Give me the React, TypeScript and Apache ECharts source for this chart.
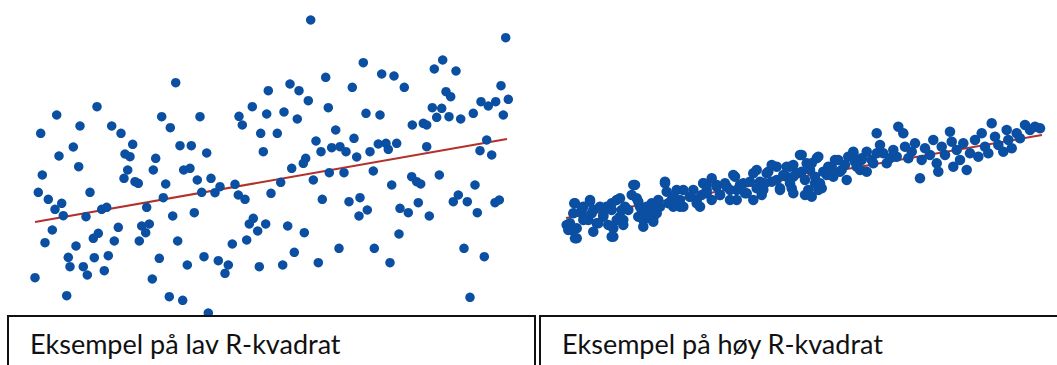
import React, { useEffect, useRef } from "react";
import * as echarts from "echarts";

// Scatter readings (horizontal position, vertical position measured downward)
const lowRPoints: number[][] = [
  [175.7, 82.7], [56.7, 115], [97, 106.7], [40.7, 133.3], [80, 126], [111.7, 126], [121, 133.3], [132.7, 144.3],
  [73.3, 147], [59, 156], [125, 154], [130, 156.7], [155.7, 158.3], [161.7, 116.7], [170.3, 127.7], [180, 145.7],
  [191.3, 145.7], [200, 116.7], [206.7, 153], [239, 116.3], [242.3, 125], [252.3, 106.7], [260.7, 133.3], [268.3, 90.7],
  [266.7, 114], [263.3, 151.7], [42.3, 175], [78.7, 166.7], [127.7, 170], [153.3, 170], [183.7, 170], [190, 168.3],
  [124, 178.3], [135, 181.7], [138.3, 183.3], [165.7, 184], [197.3, 180], [211, 178.3], [38.3, 192.3], [90, 192.3],
  [48.3, 199.3], [61.7, 203.3], [55, 209.3], [63.3, 215.7], [86, 216.7], [101.7, 209.3], [106.7, 207.3], [146.7, 207.3],
  [163.3, 197.7], [201.7, 192.3], [215, 192.7], [220, 186.7], [235, 184.3], [238.3, 195], [245, 199.3], [271, 193.3],
  [172.7, 216], [194.3, 212.7], [52.3, 230], [45, 242.7], [118.3, 227.3], [141.7, 226], [149.3, 224], [145.7, 232.7],
  [98.3, 233.3], [93.3, 238.3], [114.3, 241], [139.3, 241], [177.7, 241], [76, 246], [68.3, 257.3], [70, 266.7],
  [94.3, 257.7], [108.3, 255.7], [83.3, 266.7], [87.3, 275], [104.3, 270.7], [159.3, 258.3], [187.3, 265], [204, 256.7],
  [218.3, 260.7], [228.3, 265], [225, 273.3], [232.3, 244], [246.7, 240], [249.3, 224], [253.3, 218.3], [257.7, 231],
  [265.7, 224], [259.3, 266.7], [35, 277.7], [152.3, 279], [66.7, 295.7], [169.3, 296.7], [182.7, 300.3], [208.3, 313],
  [310.7, 20], [505.7, 37.7], [363.3, 62.7], [442.7, 60], [434.3, 69], [456, 71], [325.7, 77.3], [381.7, 74],
  [394, 76], [290, 84], [299, 90.7], [352.3, 87.3], [404.3, 87.3], [446, 91.7], [450.7, 96.7], [501, 85.7],
  [308.3, 100.7], [508.3, 99.3], [481, 101.7], [488.3, 106], [495.7, 101.7], [284, 112], [328.3, 107.7], [366, 113.3],
  [380, 115], [432.3, 107.7], [441.7, 108.3], [436.7, 117.3], [449, 116.7], [460.7, 119], [473.3, 113.3], [503.3, 115],
  [297.3, 119], [277.3, 133.3], [335.7, 130], [412.3, 125], [423.3, 123.3], [426.7, 125], [316, 141], [354, 138.3],
  [321, 151.7], [331.7, 147.7], [340, 146.7], [346, 151.7], [370, 151.7], [378.3, 144], [386, 143.3], [388.3, 149.3],
  [396.7, 143.3], [426.7, 146.7], [486.7, 140], [480, 150.7], [491.7, 155], [305.7, 158.3], [356.7, 157], [291.7, 168.3],
  [303.3, 163.3], [280.7, 182.3], [313.3, 180], [329.3, 172.7], [344, 172.7], [373.3, 171], [391.7, 185], [411.7, 176.7],
  [416.7, 181.7], [420.7, 184], [439.3, 175], [475, 185], [322.3, 199.3], [349, 201.7], [360, 197.7], [367.3, 210],
  [359, 216], [400, 208.3], [408.3, 212.7], [418.3, 202.7], [429.3, 216], [453.3, 201.7], [458.3, 195], [467.3, 201.7],
  [477.3, 212.7], [495, 202.7], [499.3, 200], [287.7, 226], [304.3, 232.7], [294.3, 252.3], [339, 248.3], [374.3, 248.3],
  [399, 234], [464, 248.3], [484.3, 256.7], [282.7, 265], [318.3, 262.7], [390, 262.7], [470, 297.3],
];

const highRPoints: number[][] = [
  [574.3, 203.3], [568.3, 226], [571.7, 230], [576.7, 238.3], [566.7, 225], [581.7, 213.3], [583.3, 206.7], [590, 200],
  [593.3, 210], [588.3, 220], [598.3, 223.3], [606.7, 206.7], [603.3, 215], [611.7, 203.3], [620, 198.3], [621.7, 210],
  [616.7, 220], [613.3, 228.3], [611.7, 236.7], [623.3, 220], [628.3, 210], [633.3, 185], [636.7, 198.3], [640, 206.7],
  [638.3, 216.7], [643.3, 226.7], [646.7, 218.3], [653.3, 218.3], [655, 211.7], [651.7, 203.3], [658.3, 200], [665, 181.7],
  [666.7, 191.7], [671.7, 200], [676.7, 190], [680, 200], [673.3, 206.7], [683.3, 206.7], [690, 196.7], [696.7, 200],
  [693.3, 190], [703.3, 183.3], [706.7, 193.3], [711.7, 200], [700, 206.7], [716.7, 185], [720, 195], [726.7, 186.7],
  [730, 200], [735, 176.7], [736.7, 190], [743.3, 183.3], [746.7, 193.3], [753.3, 200], [756.7, 170], [760, 181.7],
  [763.3, 190], [766.7, 173.3], [771.7, 181.7], [776.7, 166.7], [780, 188.3], [786.7, 176.7], [793.3, 165], [796.7, 173.3],
  [800, 155], [790, 166.7], [793.3, 176.7], [791.7, 188.3], [801.7, 155], [806.7, 163.3], [810, 170], [816.7, 158.3],
  [815, 183.3], [818.3, 190], [805, 195], [811.7, 196.7], [821.7, 188.3], [826.7, 175], [831.7, 166.7], [835, 160],
  [840, 171.7], [845, 165], [848.3, 156.7], [853.3, 151.7], [855, 161.7], [860, 170], [861.7, 158.3], [866.7, 151.7],
  [871.7, 160], [876.7, 133.3], [880, 145], [883.3, 153.3], [886.7, 163.3], [890, 158.3], [893.3, 150], [896.7, 156.7],
  [898.3, 126.7], [903.3, 133.3], [905, 146.7], [908.3, 158.3], [911.7, 151.7], [915, 143.3], [920, 178.3], [921.7, 160],
  [925, 148.3], [930, 155], [933.3, 140], [936.7, 163.3], [938.3, 171.7], [941.7, 146.7], [945, 155], [950, 131.7],
  [951.7, 141.7], [953.3, 166.7], [956.7, 150], [960, 160], [963.3, 143.3], [966.7, 170], [970, 153.3], [975, 140],
  [978.3, 156.7], [981.7, 133.3], [985, 146.7], [988.3, 153.3], [991.7, 123.3], [995, 136.7], [998.3, 145], [1003.3, 151.7],
  [1006.7, 130], [1008.3, 140], [1011.7, 148.3], [1016.7, 133.3], [1020, 138.3], [1025, 125], [1030, 130], [1035, 126.7],
  [1040, 128.3], [575, 203.3], [573.3, 213.3], [570, 223.3], [568.3, 230], [575, 238.3], [576.7, 228.3], [583.3, 220],
  [581.7, 210], [590, 201.7], [591.7, 213.3], [596.7, 223.3], [593.3, 231.7], [600, 206.7], [603.3, 216.7], [608.3, 225],
  [613.3, 236.7], [611.7, 210], [616.7, 200], [620, 216.7], [623.3, 225], [625, 206.7], [631.7, 195], [635, 185],
  [638.3, 201.7], [641.7, 210], [643.3, 220], [646.7, 206.7], [650, 215], [653.3, 221.7], [656.7, 213.3], [660, 206.7],
  [665, 183.3], [668.3, 203.3], [673.3, 196.7], [680, 206.7], [683.3, 190], [690, 196.7], [696.7, 203.3], [701.7, 195],
  [706.7, 185], [703.3, 183.3], [706.7, 190], [711.7, 178.3], [716.7, 186.7], [720, 195], [725, 183.3], [730, 190],
  [733.3, 175], [736.7, 200], [740, 185], [745, 193.3], [750, 181.7], [753.3, 173.3], [756.7, 188.3], [761.7, 195],
  [765, 183.3], [768.3, 171.7], [771.7, 165], [776.7, 180], [780, 190], [783.3, 175], [786.7, 166.7], [790, 183.3],
  [793.3, 193.3], [801.7, 171.7], [805, 180], [808.3, 190], [811.7, 163.3], [815, 176.7], [818.3, 156.7], [820, 183.3],
  [823.3, 171.7], [828.3, 166.7], [833.3, 176.7], [838.3, 160], [841.7, 170], [846.7, 180], [853.3, 153.3], [856.7, 166.7],
  [861.7, 160], [866.7, 171.7], [873.3, 163.3], [876.7, 153.3],
];

// Fitted regression lines (end points)
const lowRTrend: number[][] = [[35, 222], [507, 139]];
const highRTrend: number[][] = [[566, 218], [1042, 135]];

const captions = ["Eksempel på lav R-kvadrat", "Eksempel på høy R-kvadrat"];

const W = 1057;
const H = 365;

export default function App() {
  const ref = useRef<HTMLDivElement>(null);
  useEffect(() => {
    if (!ref.current) return;
    const chart = echarts.init(ref.current, undefined, { renderer: "svg" });
    const dotColor = "#0b4fa3";
    const lineColor = "#b3302b";
    const captionStyle = {
      fill: "#111111",
      font: "27px Lato, 'Open Sans', sans-serif",
      verticalAlign: "middle",
      textVerticalAlign: "middle",
    };
    chart.setOption({
      animation: false,
      backgroundColor: "#ffffff",
      grid: { left: 0, top: 0, width: W, height: H, containLabel: false },
      xAxis: { type: "value", min: 0, max: W, show: false },
      yAxis: { type: "value", min: 0, max: H, inverse: true, show: false },
      series: [
        {
          type: "line",
          data: lowRTrend,
          symbol: "none",
          lineStyle: { color: lineColor, width: 2 },
          z: 1,
        },
        {
          type: "line",
          data: highRTrend,
          symbol: "none",
          lineStyle: { color: lineColor, width: 2 },
          z: 1,
        },
        {
          type: "scatter",
          data: lowRPoints,
          symbol: "circle",
          symbolSize: 9.5,
          itemStyle: { color: dotColor, opacity: 1 },
          z: 2,
        },
        {
          type: "scatter",
          data: highRPoints,
          symbol: "circle",
          symbolSize: 10.5,
          itemStyle: { color: dotColor, opacity: 1 },
          z: 2,
        },
      ],
      graphic: [
        {
          type: "rect",
          shape: { x: 8, y: 316, width: 527, height: 70 },
          style: { fill: "#ffffff", stroke: "#111111", lineWidth: 2 },
          z: 10,
        },
        {
          type: "rect",
          shape: { x: 540, y: 316, width: 540, height: 70 },
          style: { fill: "#ffffff", stroke: "#111111", lineWidth: 2 },
          z: 10,
        },
        {
          type: "text",
          x: 30,
          y: 343,
          style: { ...captionStyle, text: captions[0] },
          z: 11,
        },
        {
          type: "text",
          x: 562,
          y: 343,
          style: { ...captionStyle, text: captions[1] },
          z: 11,
        },
      ],
    });
    return () => chart.dispose();
  }, []);
  return (
    <div
      ref={ref}
      style={{ position: "absolute", left: 0, top: 0, width: W, height: H }}
    />
  );
}
